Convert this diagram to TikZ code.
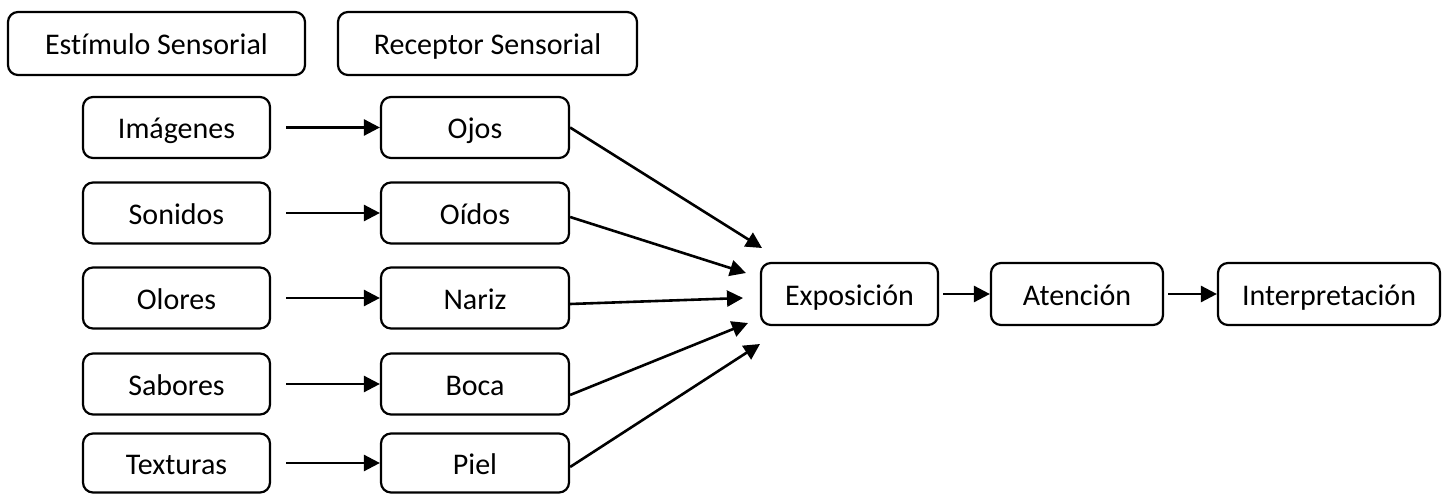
\documentclass[tikz,border=0pt]{standalone}
\usepackage{fontspec}
\setmainfont{Carlito}[Ligatures=CommonOff]
\usetikzlibrary{arrows.meta,calc}
\begin{document}
\begin{tikzpicture}[x=1pt,y=-1pt,
  box/.style={draw=black,line width=2.2pt,rounded corners=10pt,inner sep=0pt,
    text height=22.5pt,text depth=0pt,
    font=\fontsize{30}{33}\selectfont,text=black},
  conn/.style={line width=2.6pt,-{Triangle[length=16pt,width=16pt]}}]
\useasboundingbox (0,0) rectangle (1448,494);
% header
\node[box,minimum width=297pt,minimum height=63pt] (est) at (156.5,43.5) {Estímulo Sensorial};
\node[box,minimum width=299pt,minimum height=63pt] (rec) at (487.5,43.5) {Receptor Sensorial};
% stimuli
\node[box,minimum width=187pt,minimum height=61pt] (img) at (176.5,127.5) {Imágenes};
\node[box,minimum width=187pt,minimum height=61pt] (son) at (176.5,213) {Sonidos};
\node[box,minimum width=187pt,minimum height=61pt] (olo) at (176.5,298) {Olores};
\node[box,minimum width=187pt,minimum height=61pt] (sab) at (176.5,384) {Sabores};
\node[box,minimum width=187pt,minimum height=59pt] (tex) at (176.5,463) {Texturas};
% receptors
\node[box,minimum width=188pt,minimum height=61pt] (ojo) at (475,127.5) {Ojos};
\node[box,minimum width=188pt,minimum height=61pt] (oid) at (475,213) {Oídos};
\node[box,minimum width=188pt,minimum height=61pt] (nar) at (475,298) {Nariz};
\node[box,minimum width=188pt,minimum height=61pt] (boc) at (475,384) {Boca};
\node[box,minimum width=188pt,minimum height=59pt] (pie) at (475,463) {Piel};
% process
\node[box,minimum width=177pt,minimum height=62pt] (exp) at (849.5,294) {Exposición};
\node[box,minimum width=172pt,minimum height=62pt] (ate) at (1077,294) {Atención};
\node[box,minimum width=222pt,minimum height=62pt] (int) at (1329,294) {Interpretación};
% stimulus -> receptor
\foreach \a/\b in {img/ojo,son/oid,olo/nar,sab/boc,tex/pie}
  \draw[conn] ([xshift=15pt]\a.east) -- (\b.west);
% convergence
\coordinate (e1) at (762,248);
\coordinate (e2) at (746,273);
\coordinate (e3) at (743,298);
\coordinate (e4) at (748,323);
\coordinate (e5) at (760,344);
\draw[conn] ([yshift=0pt]ojo.east) -- (e1);
\draw[conn] ([yshift=-4pt]oid.east) -- (e2);
\draw[conn] ([yshift=-6pt]nar.east) -- (e3);
\draw[conn] ([yshift=-11pt]boc.east) -- (e4);
\draw[conn] ([yshift=-4pt]pie.east) -- (e5);
% process chain
\draw[conn] ([xshift=4pt]exp.east) -- (ate.west);
\draw[conn] ([xshift=4pt]ate.east) -- (int.west);
\end{tikzpicture}
\end{document}
